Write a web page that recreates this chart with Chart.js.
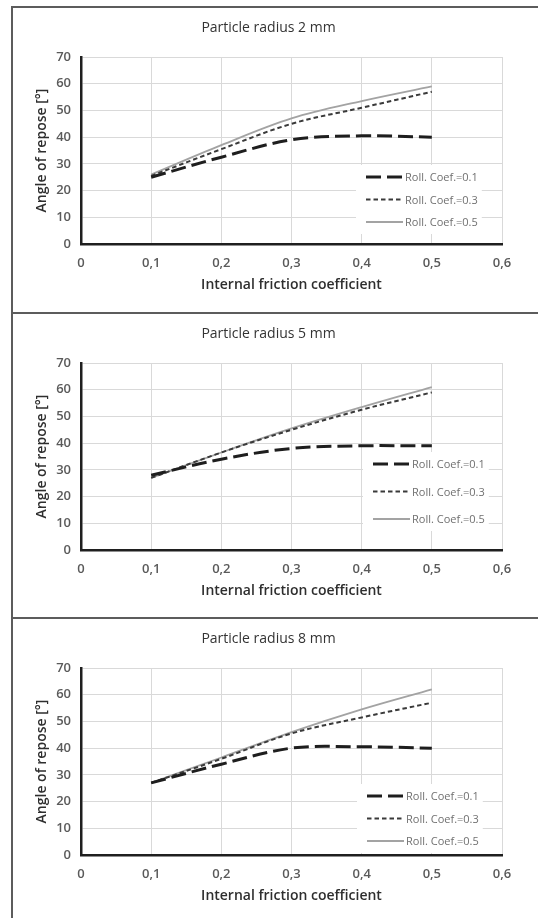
<!DOCTYPE html>
<html>
<head>
<meta charset="utf-8">
<script src="https://cdn.jsdelivr.net/npm/chart.js@4.4.1/dist/chart.umd.min.js"></script>
<style>
    html, body { margin: 0; padding: 0; background: #fff; overflow: hidden; }
    body { width: 538px; height: 918px; position: relative; }
    .panel { position: absolute; left: 11px; width: 560px; border-top: 2px solid #5c5c5c; border-left: 2px solid #5c5c5c; }
    .box { position: absolute; left: 0; width: 538px; height: 305px; }
</style>
</head>
<body>
<div class="panel" style="top:6px;height:310px"></div>
<div class="panel" style="top:312px;height:310px"></div>
<div class="panel" style="top:617px;height:310px"></div>
<div class="box" style="top:7px"><canvas id="chart-r2"></canvas></div>
<div class="box" style="top:313px"><canvas id="chart-r5"></canvas></div>
<div class="box" style="top:618px"><canvas id="chart-r8"></canvas></div>
<script>
// values
var xValues = [0.1, 0.2, 0.3, 0.4, 0.5];
var xTickLabels = ["0", "0,1", "0,2", "0,3", "0,4", "0,5", "0,6"];
var yTickLabels = ["0", "10", "20", "30", "40", "50", "60", "70"];
var seriesNames = ["Roll. Coef.=0.1", "Roll. Coef.=0.3", "Roll. Coef.=0.5"];
var panelTitles = ["Particle radius 2 mm", "Particle radius 5 mm", "Particle radius 8 mm"];

var r2Coef01 = [25, 32.5, 39, 40.5, 40];
var r2Coef03 = [25.5, 35.5, 45, 51, 57];
var r2Coef05 = [26, 37, 47, 53.5, 59];

var r5Coef01 = [28, 34, 38, 39, 39];
var r5Coef03 = [27, 36.5, 45, 52.5, 59];
var r5Coef05 = [27, 36.5, 45.5, 53.5, 61];

var r8Coef01 = [27, 34, 40, 40.5, 40];
var r8Coef03 = [27, 36, 45.5, 51.5, 57];
var r8Coef05 = [27, 36.5, 46, 54.5, 62];

Chart.defaults.font.family = "'Open Sans', sans-serif";

function points(ys) {
    return xValues.map(function (x, i) { return { x: x, y: ys[i] }; });
}

// legend drawn inside the plot area, lower right, like the Excel original
var insideLegend = {
    id: 'insideLegend',
    afterDraw: function (chart, args, opts) {
        var ctx = chart.ctx, area = chart.chartArea;
        var x0 = area.left + opts.left, y0 = area.top + opts.top;
        var sets = chart.data.datasets;
        ctx.save();
        ctx.font = opts.font;
        var textW = 0;
        sets.forEach(function (d) { textW = Math.max(textW, ctx.measureText(d.label).width); });
        ctx.fillStyle = '#fff';
        ctx.fillRect(x0 - 10, y0 - 12, opts.sample + 2 + textW + 14, opts.gap * (sets.length - 1) + 24);
        sets.forEach(function (d, i) {
            var y = y0 + i * opts.gap;
            ctx.beginPath();
            ctx.setLineDash(d.borderDash || []);
            ctx.lineWidth = d.borderWidth;
            ctx.strokeStyle = d.borderColor;
            ctx.moveTo(x0, y);
            ctx.lineTo(x0 + opts.sample, y);
            ctx.stroke();
            ctx.setLineDash([]);
            ctx.fillStyle = opts.color;
            ctx.textBaseline = 'middle';
            ctx.fillText(d.label, x0 + opts.sample + 2, y + 1);
        });
        ctx.restore();
    }
};

function makeChart(id, title, c01, c03, c05, legendPos) {
    return new Chart(document.getElementById(id), {
        type: 'line',
        data: {
            datasets: [
                {
                    label: seriesNames[0],
                    data: points(c01),
                    borderColor: '#1e1e1e',
                    borderWidth: 3,
                    borderDash: [15, 6],
                    pointRadius: 0,
                    tension: 0.35
                },
                {
                    label: seriesNames[1],
                    data: points(c03),
                    borderColor: '#3a3a3a',
                    borderWidth: 2,
                    borderDash: [4.5, 3],
                    pointRadius: 0,
                    tension: 0.35
                },
                {
                    label: seriesNames[2],
                    data: points(c05),
                    borderColor: '#a3a3a3',
                    borderWidth: 1.8,
                    pointRadius: 0,
                    tension: 0.35
                }
            ]
        },
        options: {
            responsive: true,
            maintainAspectRatio: false,
            animation: false,
            layout: { padding: { left: 35, right: 36, top: 0, bottom: 0 } },
            plugins: {
                legend: { display: false },
                tooltip: { enabled: false },
                title: {
                    display: true,
                    text: title,
                    color: '#333',
                    font: { size: 14, weight: '500' },
                    padding: { top: 13, bottom: 20.2 }
                },
                insideLegend: legendPos
            },
            scales: {
                x: {
                    type: 'linear',
                    min: 0,
                    max: 0.6,
                    afterFit: function (s) { s.height = 68; },
                    ticks: {
                        stepSize: 0.1,
                        padding: 11,
                        color: '#5a5a5a',
                        font: { size: 13, weight: '600' },
                        callback: function (v) { return xTickLabels[Math.round(v * 10)]; }
                    },
                    grid: { color: '#d9d9d9', drawTicks: false },
                    border: { color: '#1f1f1f', width: 2.5 },
                    title: {
                        display: true,
                        text: 'Internal friction coefficient',
                        color: '#2e2e2e',
                        font: { size: 14, weight: '600' },
                        padding: { top: 0, bottom: 18.5 }
                    }
                },
                y: {
                    min: 0,
                    max: 70,
                    afterFit: function (s) { s.width = 46; },
                    ticks: {
                        stepSize: 10,
                        padding: 10,
                        color: '#5a5a5a',
                        font: { size: 13, weight: '600' },
                        callback: function (v) { return yTickLabels[Math.round(v / 10)]; }
                    },
                    grid: { color: '#d9d9d9', drawTicks: false },
                    border: { color: '#1f1f1f', width: 2.5 },
                    title: {
                        display: true,
                        text: 'Angle of repose [°]',
                        color: '#2e2e2e',
                        font: { size: 14, weight: '600' },
                        padding: { top: -1.4, bottom: 0 }
                    }
                }
            }
        },
        plugins: [insideLegend]
    });
}

makeChart('chart-r2', panelTitles[0], r2Coef01, r2Coef03, r2Coef05,
    { left: 285, top: 120, gap: 22.5, sample: 37, font: "11px 'Open Sans'", color: '#707070' });
makeChart('chart-r5', panelTitles[1], r5Coef01, r5Coef03, r5Coef05,
    { left: 292, top: 101, gap: 27.5, sample: 37, font: "11px 'Open Sans'", color: '#707070' });
makeChart('chart-r8', panelTitles[2], r8Coef01, r8Coef03, r8Coef05,
    { left: 286, top: 128, gap: 22.5, sample: 37, font: "11px 'Open Sans'", color: '#707070' });
</script>
</body>
</html>
